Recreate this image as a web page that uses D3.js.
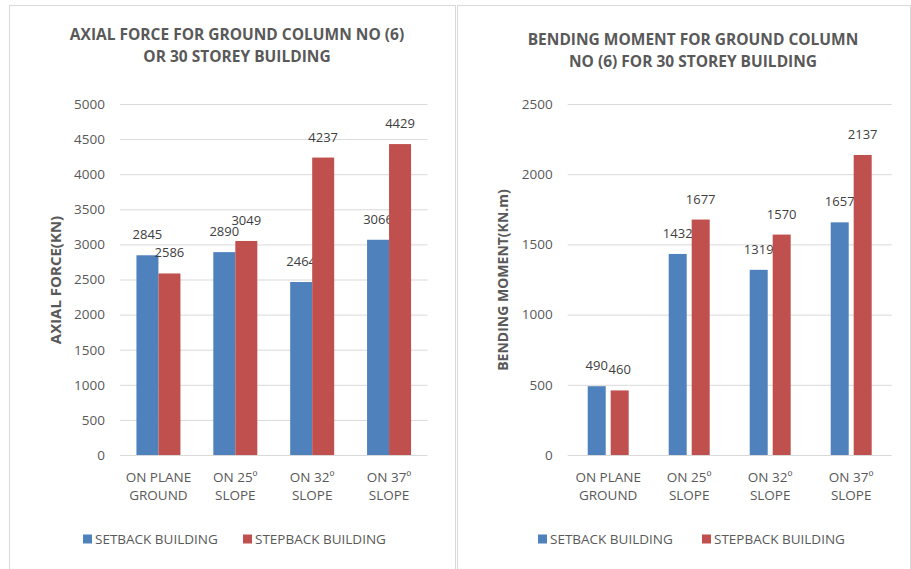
<!DOCTYPE html>
<html>
<head>
<meta charset="utf-8">
<script src="https://cdn.jsdelivr.net/npm/d3@7"></script>
<style>
  body { margin: 0; background: #fff; }
  text { font-family: "Open Sans", sans-serif; }
</style>
</head>
<body>
<div class="canvas"></div>
<script>
// data
const categories = ['ON PLANE|GROUND', 'ON 25º|SLOPE', 'ON 32º|SLOPE', 'ON 37º|SLOPE'];
const seriesNames = ['SETBACK BUILDING', 'STEPBACK BUILDING'];
const axialSetback = [2845, 2890, 2464, 3066];
const axialStepback = [2586, 3049, 4237, 4429];
const momentSetback = [490, 1432, 1319, 1657];
const momentStepback = [460, 1677, 1570, 2137];
const axialTicks = [0, 500, 1000, 1500, 2000, 2500, 3000, 3500, 4000, 4500, 5000];
const momentTicks = [0, 500, 1000, 1500, 2000, 2500];

const colors = ['#4f81bd', '#c0504d'];

const svg = d3.select('.canvas')
    .append('svg')
    .attr('width', 911)
    .attr('height', 569);

function drawPanel(opts) {
    const g = svg.append('g');

    // panel frame
    g.append('rect')
        .attr('x', opts.frame[0] + 0.5)
        .attr('y', 5.5)
        .attr('width', opts.frame[1] - opts.frame[0])
        .attr('height', 600)
        .attr('fill', '#fff')
        .attr('stroke', '#d9d9d9');

    // title, two lines
    opts.title.forEach((line, i) => {
        g.append('text')
            .attr('x', opts.titleX)
            .attr('y', opts.titleY + i * 22)
            .attr('text-anchor', 'middle')
            .attr('font-size', 15.5)
            .attr('font-weight', 'bold')
            .attr('fill', '#595959')
            .text(line);
    });

    const y = d3.scaleLinear()
        .domain([0, d3.max(opts.ticks)])
        .range([455, 104]);

    const x = d3.scaleBand()
        .domain(categories)
        .range([opts.left, opts.right])
        .paddingInner(opts.pad)
        .paddingOuter(opts.pad / 2);

    const x1 = d3.scaleBand()
        .domain([0, 1])
        .range([0, x.bandwidth()])
        .paddingInner(opts.barGap);

    // gridlines + tick labels
    const yAxis = d3.axisLeft(y)
        .tickValues(opts.ticks)
        .tickFormat(d3.format('d'))
        .tickSize(-(opts.right - opts.left))
        .tickPadding(15);

    const yAxisGroup = g.append('g')
        .attr('transform', `translate(${opts.left}, 0)`)
        .call(yAxis);
    yAxisGroup.select('.domain').remove();
    yAxisGroup.selectAll('line').attr('stroke', '#d9d9d9');
    yAxisGroup.selectAll('text')
        .attr('font-size', 13.5)
        .attr('fill', '#595959')
        .style('font-family', '"Open Sans", sans-serif');

    // bars
    opts.series.forEach((vals, s) => {
        g.selectAll('rect.s' + s)
            .data(vals)
            .enter()
            .append('rect')
            .attr('class', 's' + s)
            .attr('x', (d, i) => x(categories[i]) + x1(s))
            .attr('y', d => y(d))
            .attr('width', x1.bandwidth())
            .attr('height', d => y(0) - y(d))
            .attr('fill', colors[s]);

        g.selectAll('text.l' + s)
            .data(vals)
            .enter()
            .append('text')
            .attr('class', 'l' + s)
            .attr('x', (d, i) => x(categories[i]) + x1(s) + x1.bandwidth() / 2)
            .attr('y', d => y(d) - 16)
            .attr('text-anchor', 'middle')
            .attr('font-size', 13)
            .attr('fill', '#404040')
            .text(d => d);
    });

    // category labels
    categories.forEach(c => {
        const t = g.append('text')
            .attr('text-anchor', 'middle')
            .attr('font-size', 13.5)
            .attr('fill', '#595959');
        c.split('|').forEach((line, i) => {
            t.append('tspan')
                .attr('x', x(c) + x.bandwidth() / 2)
                .attr('y', 482 + i * 18)
                .text(line);
        });
    });

    // axis title
    g.append('text')
        .attr('transform', `translate(${opts.yTitleX}, 280) rotate(-90)`)
        .attr('text-anchor', 'middle')
        .attr('font-size', opts.yTitleSize)
        .attr('font-weight', 'bold')
        .attr('fill', '#595959')
        .text(opts.yTitle);

    // legend
    seriesNames.forEach((name, s) => {
        g.append('rect')
            .attr('x', opts.legend[s])
            .attr('y', 534.5)
            .attr('width', 9)
            .attr('height', 9)
            .attr('fill', colors[s]);
        g.append('text')
            .attr('x', opts.legend[s] + 12)
            .attr('y', 543.5)
            .attr('font-size', 13.5)
            .attr('fill', '#595959')
            .text(name);
    });
}

drawPanel({
    frame: [9, 455],
    title: ['AXIAL FORCE FOR GROUND COLUMN NO (6)', 'OR 30 STOREY BUILDING'],
    titleX: 237,
    titleY: 40,
    left: 120,
    right: 427.5,
    pad: 0.4276,
    barGap: 0,
    ticks: axialTicks,
    series: [axialSetback, axialStepback],
    yTitle: 'AXIAL FORCE(KN)',
    yTitleX: 61,
    yTitleSize: 15,
    legend: [83, 243]
});

drawPanel({
    frame: [457, 910],
    title: ['BENDING MOMENT FOR GROUND COLUMN', 'NO (6) FOR 30 STOREY BUILDING'],
    titleX: 693,
    titleY: 45,
    left: 567.7,
    right: 891.7,
    pad: 0.494,
    barGap: 0.217,
    ticks: momentTicks,
    series: [momentSetback, momentStepback],
    yTitle: 'BENDING MOMENT(KN.m)',
    yTitleX: 508,
    yTitleSize: 14,
    legend: [538, 702]
});
</script>
</body>
</html>
